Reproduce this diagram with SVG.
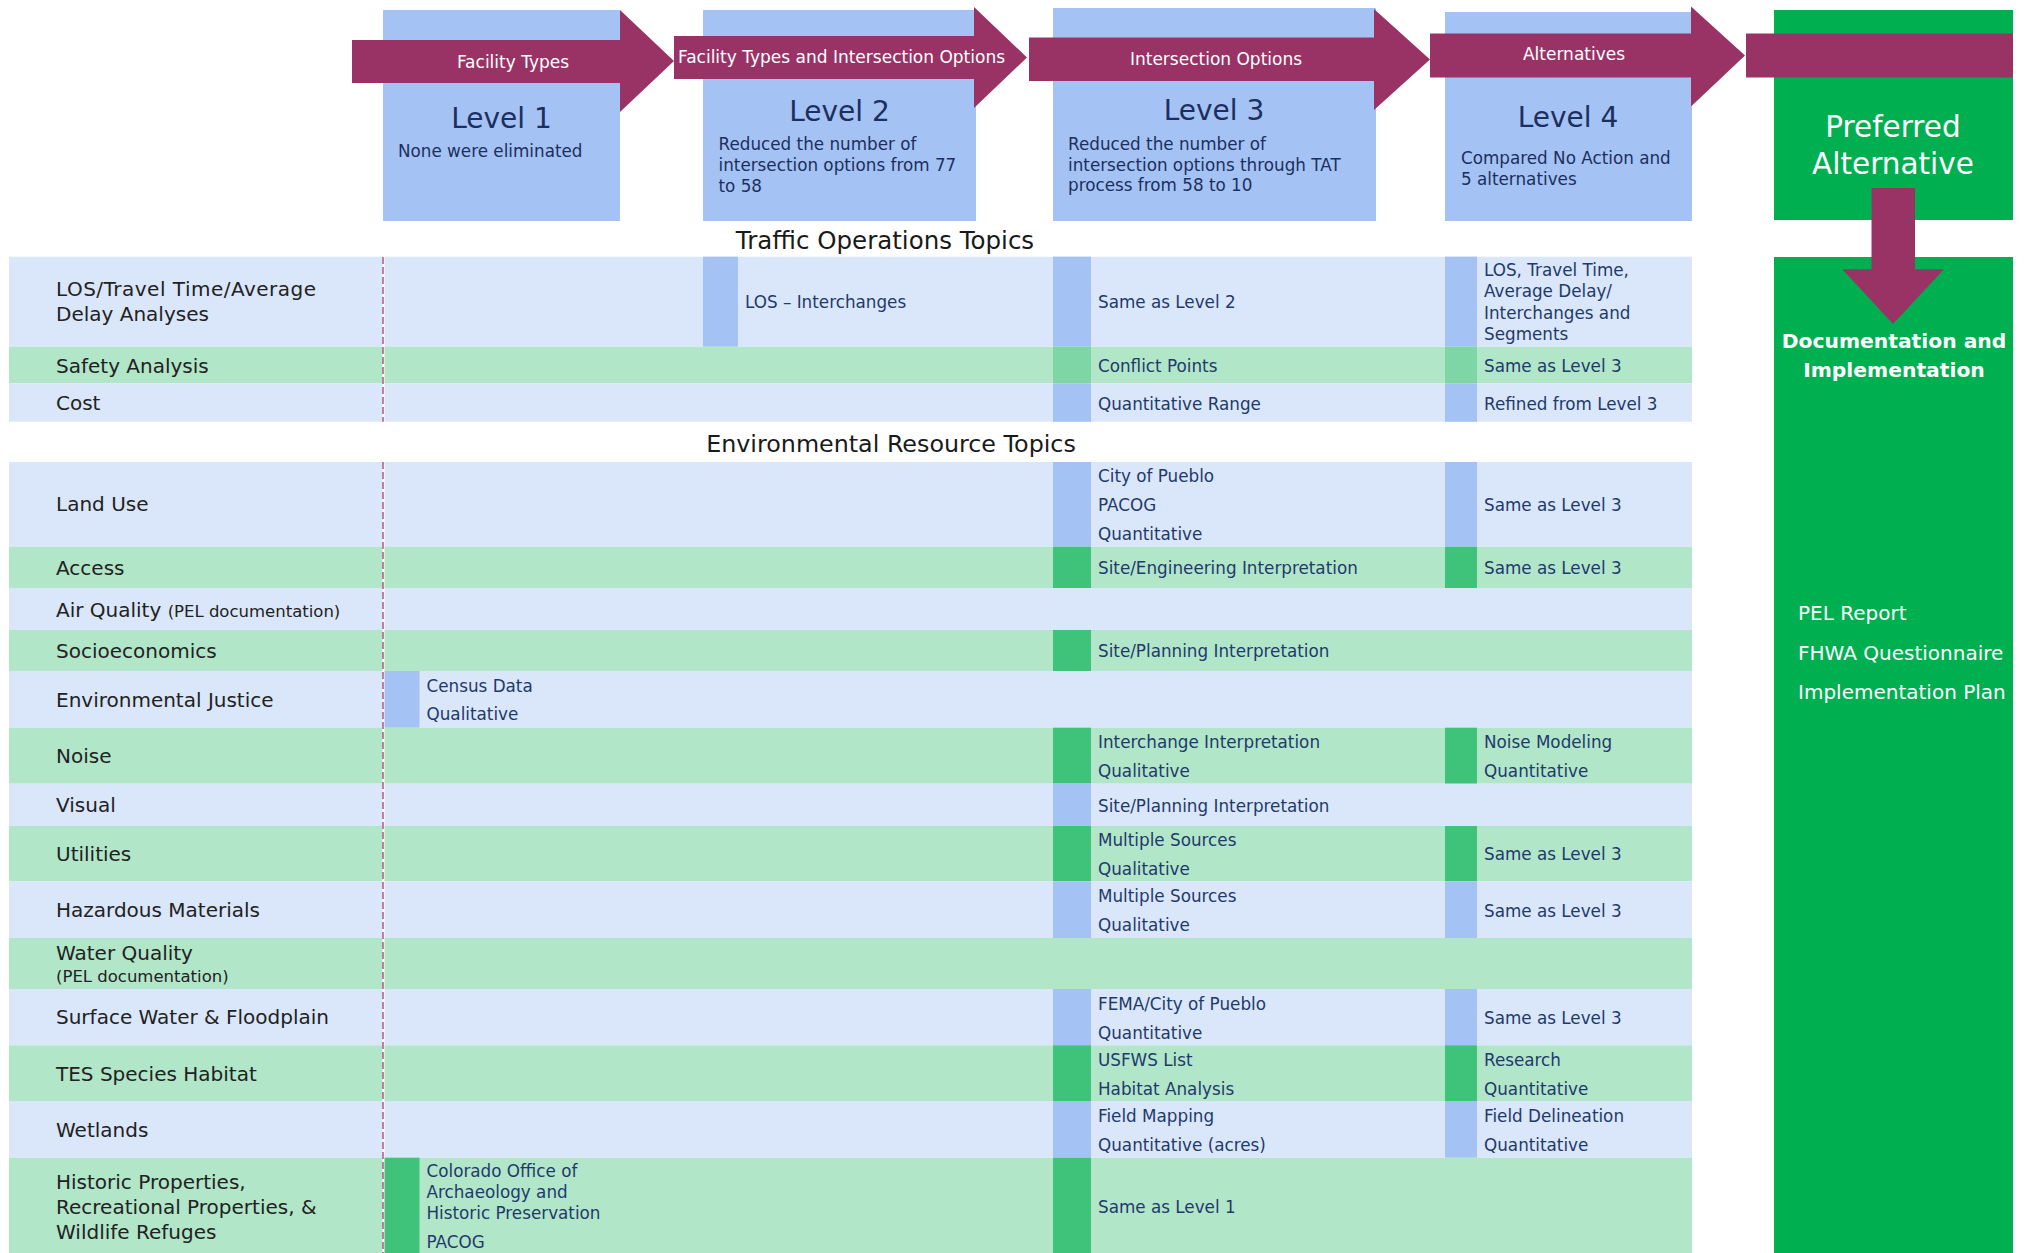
<svg xmlns="http://www.w3.org/2000/svg" width="2025" height="1253" viewBox="0 0 2025 1253">
<style>
text{font-family:"DejaVu Sans","Liberation Sans",sans-serif;}
.lvbox{fill:#a4c2f4;}
.lvt{font-size:28px;fill:#1c2f5e;text-anchor:middle;}
.lvd{font-size:16.8px;fill:#1c2f5e;}
.arr{fill:#993366;}
.arrt{font-size:17px;fill:#ffffff;text-anchor:middle;}
.rb{fill:#dae6f9;}
.rg{fill:#b1e6c9;}
.mb{fill:#a4c2f4;}
.mg{fill:#3fc37a;}
.ml{fill:#7ed6a6;}
.lab{font-size:20px;fill:#222222;}
.sm{font-size:16.5px;}
.cell{font-size:16.8px;fill:#1f3a6b;}
.ttl{fill:#1a1a1a;text-anchor:middle;}
.gbox{fill:#00b050;}
.wt{fill:#ffffff;}
.dashbg{stroke:#ffffff;stroke-width:2;fill:none;}
.dash{stroke:#a33d6c;stroke-width:1.3;stroke-dasharray:7 3;fill:none;}
</style>

<g id="level1">
<rect class="lvbox" x="383" y="10" width="237" height="211"/>
<text class="lvt" x="501.5" y="128">Level 1</text>
<text class="lvd" x="398" y="157">None were eliminated</text>
</g>
<g id="level2">
<rect class="lvbox" x="703" y="10" width="273" height="211"/>
<text class="lvt" x="839.5" y="121">Level 2</text>
<text class="lvd" x="718.5" y="150">Reduced the number of</text>
<text class="lvd" x="718.5" y="171">intersection options from 77</text>
<text class="lvd" x="718.5" y="192">to 58</text>
</g>
<g id="level3">
<rect class="lvbox" x="1053" y="8" width="323" height="213"/>
<text class="lvt" x="1214" y="120">Level 3</text>
<text class="lvd" x="1068" y="149.5">Reduced the number of</text>
<text class="lvd" x="1068" y="170.5">intersection options through TAT</text>
<text class="lvd" x="1068" y="191">process from 58 to 10</text>
</g>
<g id="level4">
<rect class="lvbox" x="1445" y="12" width="247" height="209"/>
<text class="lvt" x="1568" y="127">Level 4</text>
<text class="lvd" x="1461" y="163.5">Compared No Action and</text>
<text class="lvd" x="1461" y="184.5">5 alternatives</text>
</g>
<g id="preferred">
<rect class="gbox" x="1774" y="10" width="239" height="210"/>
<text class="wt" x="1893" y="137" font-size="29.5" text-anchor="middle">Preferred</text>
<text class="wt" x="1893" y="174" font-size="29.5" text-anchor="middle">Alternative</text>
</g>
<g id="documentation">
<rect class="gbox" x="1774" y="257" width="239" height="996"/>
<text class="wt" x="1894" y="348" font-size="20.3" font-weight="bold" text-anchor="middle">Documentation and</text>
<text class="wt" x="1894" y="376.5" font-size="20.3" font-weight="bold" text-anchor="middle">Implementation</text>
<text class="wt" x="1798" y="620" font-size="20">PEL Report</text>
<text class="wt" x="1798" y="660" font-size="20">FHWA Questionnaire</text>
<text class="wt" x="1798" y="699" font-size="20">Implementation Plan</text>
</g>

<g id="connectors">
<polygon class="arr" points="352,40 620,40 620,10 674,61 620,112 620,83 352,83"/>
<polygon class="arr" points="674,36 974,36 974,7 1027,57.5 974,108 974,79 674,79"/>
<polygon class="arr" points="1029,37.5 1374,37.5 1374,9 1430,59.5 1374,110 1374,81 1029,81"/>
<polygon class="arr" points="1430,33.5 1691,33.5 1691,6.5 1745,55.5 1691,106.5 1691,77.5 1430,77.5"/>
<rect class="arr" x="1746" y="33.5" width="267" height="44"/>
<polygon class="arr" points="1871.5,188 1915,188 1915,269.3 1944,269.3 1893,324 1842.3,269.3 1871.5,269.3"/>
<text class="arrt" x="513" y="68">Facility Types</text>
<text class="arrt" x="841.5" y="63">Facility Types and Intersection Options</text>
<text class="arrt" x="1216" y="65">Intersection Options</text>
<text class="arrt" x="1574" y="60">Alternatives</text>
</g>

<g id="traffic-title"><text class="ttl" x="885" y="249" font-size="24.5">Traffic Operations Topics</text></g>
<g id="env-title"><text class="ttl" x="891" y="451.5" font-size="23.8">Environmental Resource Topics</text></g>

<g id="row-los">
<rect class="rb" x="9" y="256.7" width="1683" height="90"/>
<rect class="mb" x="703" y="256.7" width="35" height="90"/>
<rect class="mb" x="1053" y="256.7" width="38" height="90"/>
<rect class="mb" x="1445" y="256.7" width="32" height="90"/>
<text class="lab" x="56" y="296" textLength="260">LOS/Travel Time/Average</text>
<text class="lab" x="56" y="321">Delay Analyses</text>
<text class="cell" x="745" y="308">LOS – Interchanges</text>
<text class="cell" x="1098" y="308">Same as Level 2</text>
<text class="cell" x="1484" y="275.5">LOS, Travel Time,</text>
<text class="cell" x="1484" y="297">Average Delay/</text>
<text class="cell" x="1484" y="319">Interchanges and</text>
<text class="cell" x="1484" y="339.5">Segments</text>
</g>
<g id="row-safety">
<rect class="rg" x="9" y="346.7" width="1683" height="36.6"/>
<rect class="ml" x="1053" y="346.7" width="38" height="36.6"/>
<rect class="ml" x="1445" y="346.7" width="32" height="36.6"/>
<text class="lab" x="56" y="372.5">Safety Analysis</text>
<text class="cell" x="1098" y="371.5">Conflict Points</text>
<text class="cell" x="1484" y="371.5">Same as Level 3</text>
</g>
<g id="row-cost">
<rect class="rb" x="9" y="383.3" width="1683" height="38.4"/>
<rect class="mb" x="1053" y="383.3" width="38" height="38.4"/>
<rect class="mb" x="1445" y="383.3" width="32" height="38.4"/>
<text class="lab" x="56" y="410">Cost</text>
<text class="cell" x="1098" y="410">Quantitative Range</text>
<text class="cell" x="1484" y="410">Refined from Level 3</text>
</g>

<g id="row-landuse">
<rect class="rb" x="9" y="462" width="1683" height="84.7"/>
<rect class="mb" x="1053" y="462" width="38" height="84.7"/>
<rect class="mb" x="1445" y="462" width="32" height="84.7"/>
<text class="lab" x="56" y="511">Land Use</text>
<text class="cell" x="1098" y="481.5">City of Pueblo</text>
<text class="cell" x="1098" y="510.5">PACOG</text>
<text class="cell" x="1098" y="539.5">Quantitative</text>
<text class="cell" x="1484" y="511">Same as Level 3</text>
</g>
<g id="row-access">
<rect class="rg" x="9" y="546.7" width="1683" height="41.3"/>
<rect class="mg" x="1053" y="546.7" width="38" height="41.3"/>
<rect class="mg" x="1445" y="546.7" width="32" height="41.3"/>
<text class="lab" x="56" y="575">Access</text>
<text class="cell" x="1098" y="574">Site/Engineering Interpretation</text>
<text class="cell" x="1484" y="574">Same as Level 3</text>
</g>
<g id="row-air">
<rect class="rb" x="9" y="588" width="1683" height="42"/>
<text class="lab" x="56" y="616.5">Air Quality <tspan class="sm">(PEL documentation)</tspan></text>
</g>
<g id="row-socio">
<rect class="rg" x="9" y="630" width="1683" height="41"/>
<rect class="mg" x="1053" y="630" width="38" height="41"/>
<text class="lab" x="56" y="658">Socioeconomics</text>
<text class="cell" x="1098" y="656.5">Site/Planning Interpretation</text>
</g>
<g id="row-ej">
<rect class="rb" x="9" y="671" width="1683" height="56.7"/>
<rect class="mb" x="384" y="671" width="35.5" height="56.7"/>
<text class="lab" x="56" y="706.5">Environmental Justice</text>
<text class="cell" x="426.5" y="691.5">Census Data</text>
<text class="cell" x="426.5" y="720">Qualitative</text>
</g>
<g id="row-noise">
<rect class="rg" x="9" y="727.7" width="1683" height="56"/>
<rect class="mg" x="1053" y="727.7" width="38" height="56"/>
<rect class="mg" x="1445" y="727.7" width="32" height="56"/>
<text class="lab" x="56" y="762.5">Noise</text>
<text class="cell" x="1098" y="747.5">Interchange Interpretation</text>
<text class="cell" x="1098" y="776.5">Qualitative</text>
<text class="cell" x="1484" y="747.5">Noise Modeling</text>
<text class="cell" x="1484" y="776.5">Quantitative</text>
</g>
<g id="row-visual">
<rect class="rb" x="9" y="783.7" width="1683" height="42.3"/>
<rect class="mb" x="1053" y="783.7" width="38" height="42.3"/>
<text class="lab" x="56" y="811.5">Visual</text>
<text class="cell" x="1098" y="811.5">Site/Planning Interpretation</text>
</g>
<g id="row-utilities">
<rect class="rg" x="9" y="826" width="1683" height="55.5"/>
<rect class="mg" x="1053" y="826" width="38" height="55.5"/>
<rect class="mg" x="1445" y="826" width="32" height="55.5"/>
<text class="lab" x="56" y="861">Utilities</text>
<text class="cell" x="1098" y="846">Multiple Sources</text>
<text class="cell" x="1098" y="875">Qualitative</text>
<text class="cell" x="1484" y="860">Same as Level 3</text>
</g>
<g id="row-hazardous">
<rect class="rb" x="9" y="881.5" width="1683" height="56.5"/>
<rect class="mb" x="1053" y="881.5" width="38" height="56.5"/>
<rect class="mb" x="1445" y="881.5" width="32" height="56.5"/>
<text class="lab" x="56" y="917">Hazardous Materials</text>
<text class="cell" x="1098" y="902">Multiple Sources</text>
<text class="cell" x="1098" y="931">Qualitative</text>
<text class="cell" x="1484" y="916.5">Same as Level 3</text>
</g>
<g id="row-water">
<rect class="rg" x="9" y="938" width="1683" height="51"/>
<text class="lab" x="56" y="960">Water Quality</text>
<text class="lab sm" x="56" y="981.5">(PEL documentation)</text>
</g>
<g id="row-surface">
<rect class="rb" x="9" y="989" width="1683" height="56.3"/>
<rect class="mb" x="1053" y="989" width="38" height="56.3"/>
<rect class="mb" x="1445" y="989" width="32" height="56.3"/>
<text class="lab" x="56" y="1024">Surface Water &amp; Floodplain</text>
<text class="cell" x="1098" y="1010">FEMA/City of Pueblo</text>
<text class="cell" x="1098" y="1038.5">Quantitative</text>
<text class="cell" x="1484" y="1024">Same as Level 3</text>
</g>
<g id="row-tes">
<rect class="rg" x="9" y="1045.3" width="1683" height="55.7"/>
<rect class="mg" x="1053" y="1045.3" width="38" height="55.7"/>
<rect class="mg" x="1445" y="1045.3" width="32" height="55.7"/>
<text class="lab" x="56" y="1080.5">TES Species Habitat</text>
<text class="cell" x="1098" y="1066">USFWS List</text>
<text class="cell" x="1098" y="1095">Habitat Analysis</text>
<text class="cell" x="1484" y="1066">Research</text>
<text class="cell" x="1484" y="1095">Quantitative</text>
</g>
<g id="row-wetlands">
<rect class="rb" x="9" y="1101" width="1683" height="56.7"/>
<rect class="mb" x="1053" y="1101" width="38" height="56.7"/>
<rect class="mb" x="1445" y="1101" width="32" height="56.7"/>
<text class="lab" x="56" y="1136.5">Wetlands</text>
<text class="cell" x="1098" y="1122">Field Mapping</text>
<text class="cell" x="1098" y="1151">Quantitative (acres)</text>
<text class="cell" x="1484" y="1122">Field Delineation</text>
<text class="cell" x="1484" y="1151">Quantitative</text>
</g>
<g id="row-historic">
<rect class="rg" x="9" y="1157.7" width="1683" height="95.3"/>
<rect class="mg" x="384" y="1157.7" width="35.5" height="95.3"/>
<rect class="mg" x="1053" y="1157.7" width="38" height="95.3"/>
<text class="lab" x="56" y="1189">Historic Properties,</text>
<text class="lab" x="56" y="1214">Recreational Properties, &amp;</text>
<text class="lab" x="56" y="1238.5">Wildlife Refuges</text>
<text class="cell" x="426.5" y="1177">Colorado Office of</text>
<text class="cell" x="426.5" y="1198">Archaeology and</text>
<text class="cell" x="426.5" y="1219">Historic Preservation</text>
<text class="cell" x="426.5" y="1248">PACOG</text>
<text class="cell" x="1098" y="1213">Same as Level 1</text>
</g>

<g id="level1-divider">
<line class="dashbg" x1="383.5" y1="257" x2="383.5" y2="421.7"/>
<line class="dashbg" x1="383.5" y1="462" x2="383.5" y2="1253"/>
<line class="dash" x1="383" y1="257" x2="383" y2="421.7"/>
<line class="dash" x1="383" y1="462" x2="383" y2="1253"/>
</g>
</svg>
